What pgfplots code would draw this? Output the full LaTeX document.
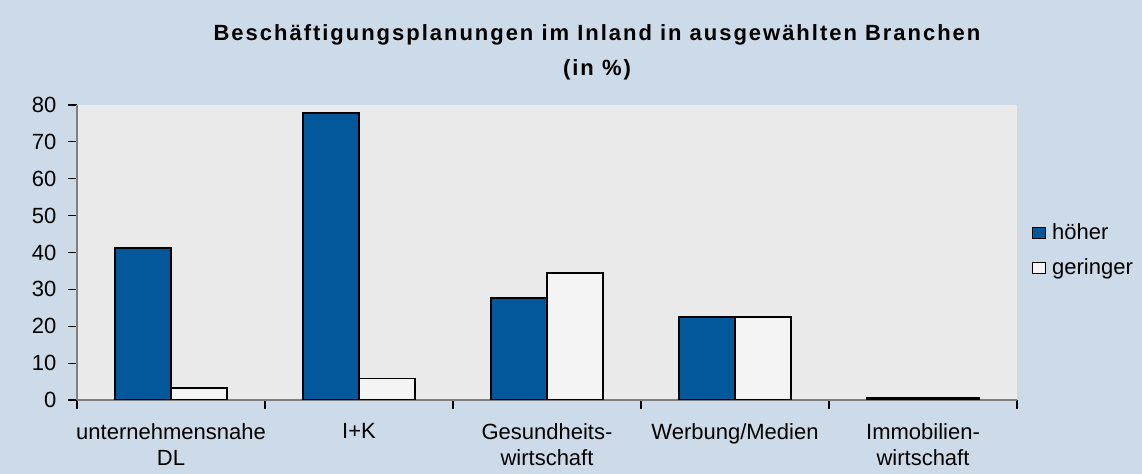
\documentclass[border=0pt]{standalone}
\usepackage{pgfplots}
\pgfplotsset{compat=1.18}
\usepackage{fontspec}
\setmainfont{Liberation Sans}

\definecolor{bgblue}{HTML}{CDDAE8}
\definecolor{plotgray}{HTML}{EAEAEA}
\definecolor{barblue}{HTML}{03589B}
\definecolor{barwhite}{HTML}{F4F4F4}
\definecolor{axisgray}{HTML}{7F7F7F}

\begin{document}
\fontsize{16.5}{19.5}\selectfont
\begin{tikzpicture}
% page background
\fill[bgblue] (0pt,0pt) rectangle (856.5pt,355.5pt);
\path[use as bounding box] (0pt,0pt) rectangle (856.5pt,355.5pt);

\node[font=\bfseries\addfontfeature{LetterSpace=9}] at (447.75pt,329pt) {Beschäftigungsplanungen im Inland in ausgewählten Branchen};
\node[font=\bfseries\addfontfeature{LetterSpace=9}] at (447.75pt,303.5pt) {(in \%)};

\begin{axis}[
  at={(57.75pt,55.5pt)}, anchor=south west,
  width=705pt, height=221.25pt, scale only axis,
  ymin=0, ymax=80, ytick={0,10,...,80},
  xmin=-0.5, xmax=4.5,
  ybar=0pt, bar width=42pt,
  axis background/.style={fill=plotgray},
  axis x line*=bottom, axis y line*=left,
  axis line style={-, draw=axisgray, line width=1.1pt},
  tick align=outside, major tick length=6.75pt,
  tick style={black, line width=0.8pt},
  xtick={-0.5,0.5,...,4.5},
  x tick label as interval,
  xticklabels={unternehmensnahe\\DL, I+K, Gesundheits-\\wirtschaft, Werbung/Medien, Immobilien-\\wirtschaft},
  xticklabel style={align=center, yshift=-5pt, font=\fontsize{16.5}{19.5}\selectfont},
  yticklabel style={xshift=-3pt, font=\fontsize{16.5}{19.5}\selectfont},
  /pgf/number format/assume math mode=true,
  legend style={at={(1.0117,0.507)}, anchor=west, draw=none, fill=none,
    font=\fontsize{16.5}{19.5}\selectfont, row sep=8pt},
  legend cell align=left,
  legend image code/.code={\draw[#1, line width=0.8pt] (0pt,-4.2pt) rectangle (9.5pt,4.2pt); \path (12pt,0pt);},
]
\addplot[draw=black, line width=1.1pt, fill=barblue] coordinates {
  (0,41.2) (1,77.8) (2,27.7) (3,22.5) (4,0.5)
};
\addlegendentry{höher}
\addplot[draw=black, line width=1.1pt, fill=barwhite] coordinates {
  (0,3.3) (1,5.8) (2,34.5) (3,22.5) (4,0.5)
};
\addlegendentry{geringer}
\end{axis}
\end{tikzpicture}
\end{document}
